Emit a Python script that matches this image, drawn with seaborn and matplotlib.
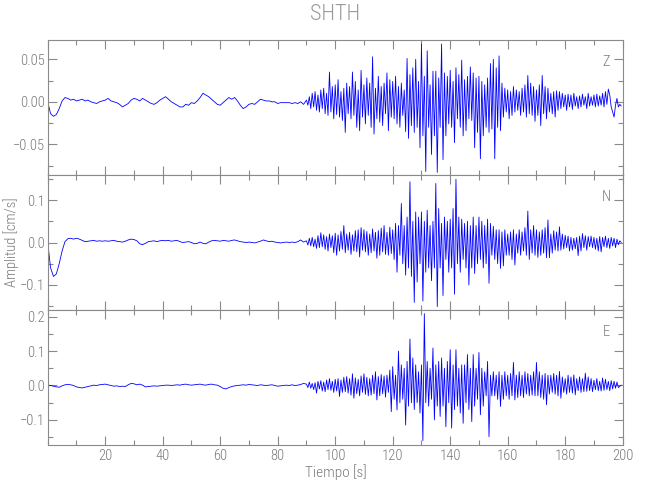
import numpy as np
import pandas as pd
import matplotlib
matplotlib.use("Agg")
import matplotlib.pyplot as plt
import seaborn as sns
from matplotlib.ticker import MultipleLocator, FuncFormatter


STATION = "SHTH"
COMPONENTS = ["Z", "N", "E"]
X_LABEL = "Tiempo [s]"
Y_LABEL = "Amplitud [cm/s]"

# quiet part, one sample per second (0 .. 89 s)
z_pre = [0.000, -0.014, -0.017, -0.015, -0.008, 0.001, 0.005, 0.004, 0.002, 0.003,
         0.001, 0.002, 0.003, 0.001, 0.002, 0.000, -0.001, -0.002, 0.000, 0.001,
         0.002, 0.004, 0.001, 0.000, -0.001, -0.003, -0.006, -0.004, -0.002, 0.002,
         0.004, 0.003, 0.001, 0.004, 0.002, 0.000, -0.002, -0.003, -0.001, 0.002,
         0.004, 0.006, 0.003, 0.000, -0.002, -0.004, -0.006, -0.006, -0.003, -0.004,
         -0.001, -0.002, 0.001, 0.005, 0.010, 0.008, 0.006, 0.003, 0.000, -0.003,
         -0.004, -0.001, 0.002, 0.005, 0.003, 0.005, 0.001, -0.004, -0.008, -0.006,
         -0.003, -0.002, -0.003, 0.000, 0.003, 0.002, 0.001, 0.001, 0.000, 0.000,
         -0.002, -0.001, -0.001, -0.001, -0.001, -0.002, -0.001, -0.002, 0.000, -0.003]

n_pre = [0.000, -0.060, -0.080, -0.074, -0.050, -0.020, 0.002, 0.009, 0.010, 0.008,
         0.010, 0.008, 0.005, 0.002, 0.003, 0.004, 0.005, 0.003, 0.004, 0.003,
         0.004, 0.003, 0.004, 0.005, 0.003, 0.002, 0.001, 0.003, 0.006, 0.008,
         0.007, 0.004, -0.003, -0.005, -0.002, 0.002, 0.003, 0.004, 0.002, 0.004,
         0.005, 0.004, 0.005, 0.003, 0.004, 0.005, 0.002, 0.000, 0.001, 0.002,
         0.000, -0.003, -0.002, 0.001, -0.002, -0.003, 0.001, 0.004, 0.005, 0.004,
         0.003, 0.005, 0.004, 0.003, 0.005, 0.006, 0.004, 0.002, 0.001, 0.000,
         0.001, 0.000, -0.001, 0.001, 0.003, 0.006, 0.004, 0.002, 0.003, 0.001,
         0.000, -0.001, 0.000, 0.001, 0.000, 0.001, 0.000, 0.002, 0.006, 0.001]

e_pre = [0.001, 0.000, -0.002, -0.004, -0.005, -0.001, 0.002, 0.003, 0.002, 0.000,
         -0.004, -0.006, -0.007, -0.005, -0.003, -0.001, 0.001, 0.000, 0.002, 0.003,
         0.004, 0.002, 0.000, -0.002, -0.001, -0.003, -0.002, -0.003, 0.002, 0.006,
         0.005, 0.002, 0.004, 0.001, -0.004, -0.003, -0.002, -0.001, -0.002, -0.001,
         0.000, 0.001, 0.001, 0.000, 0.001, 0.002, 0.001, 0.003, 0.004, 0.002,
         0.001, 0.002, 0.003, 0.004, 0.002, 0.001, 0.003, 0.004, 0.002, 0.001,
         -0.003, -0.008, -0.010, -0.006, -0.003, -0.001, 0.000, 0.001, 0.002, 0.001,
         0.003, 0.002, 0.001, 0.000, 0.002, 0.001, 0.000, 0.001, 0.002, 0.000,
         -0.002, -0.001, 0.000, 0.001, 0.000, 0.002, 0.000, 0.001, 0.003, 0.006]

# strong motion, two samples per second (90 .. 199.5 s)
z_main = [0.002, -0.004, 0.006, -0.008, 0.010, -0.006, 0.012, -0.010, 0.008, -0.012,
          0.014, -0.008, 0.016, -0.014, 0.010, -0.016, 0.035, -0.012, 0.018, -0.020,
          0.020, -0.015, 0.026, -0.018, 0.012, -0.022, 0.016, -0.036, 0.022, -0.014,
          0.018, -0.020, 0.035, -0.016, 0.024, -0.030, 0.014, -0.034, 0.037, -0.018,
          0.020, -0.026, 0.028, -0.016, 0.022, -0.030, 0.053, -0.038, 0.016, -0.020,
          0.030, -0.024, 0.018, -0.028, 0.022, -0.014, 0.034, -0.034, 0.026, -0.018,
          0.024, -0.020, 0.030, -0.026, 0.018, -0.030, 0.022, -0.016, 0.014, -0.035,
          0.051, -0.043, 0.032, -0.028, 0.040, -0.036, 0.050, -0.030, 0.024, -0.054,
          0.068, -0.040, 0.030, -0.082, 0.060, -0.030, 0.020, -0.062, 0.036, -0.040,
          0.036, -0.083, 0.028, -0.030, 0.068, -0.068, 0.034, -0.040, 0.030, -0.026,
          0.037, -0.030, 0.024, -0.048, 0.040, -0.020, 0.032, -0.030, 0.049, -0.040,
          0.026, -0.034, 0.030, -0.020, 0.041, -0.022, 0.034, -0.054, 0.028, -0.036,
          0.030, -0.067, 0.024, -0.040, 0.020, -0.030, 0.028, -0.036, 0.045, -0.032,
          0.050, -0.067, 0.040, -0.030, 0.054, -0.034, 0.022, -0.018, 0.016, -0.012,
          0.014, -0.020, 0.012, -0.016, 0.018, -0.012, 0.014, -0.010, 0.012, -0.016,
          0.016, -0.012, 0.020, -0.018, 0.031, -0.014, 0.022, -0.016, 0.018, -0.023,
          0.014, -0.016, 0.020, -0.028, 0.031, -0.014, 0.018, -0.020, 0.016, -0.012,
          0.010, -0.014, 0.012, -0.018, 0.013, -0.010, 0.012, -0.008, 0.010, -0.006,
          0.008, -0.010, 0.009, -0.006, 0.008, -0.009, 0.010, -0.005, 0.006, -0.008,
          0.007, -0.006, 0.009, -0.004, 0.006, -0.008, 0.010, -0.005, 0.006, -0.004,
          0.008, -0.006, 0.009, -0.005, 0.007, -0.004, 0.010, -0.006, 0.012, -0.003,
          0.015, 0.008, -0.006, -0.012, -0.018, -0.004, 0.004, -0.006, -0.003, -0.005]

n_main = [0.004, -0.006, 0.010, -0.008, 0.012, -0.010, 0.008, -0.014, 0.016, -0.012,
          0.023, -0.010, 0.018, -0.016, 0.014, -0.020, 0.020, -0.012, 0.016, -0.024,
          0.022, -0.030, 0.018, -0.020, 0.026, -0.016, 0.040, -0.024, 0.020, -0.018,
          0.024, -0.028, 0.018, -0.020, 0.028, -0.022, 0.030, -0.034, 0.035, -0.018,
          0.030, -0.022, 0.026, -0.030, 0.020, -0.024, 0.032, -0.020, 0.024, -0.037,
          0.028, -0.030, 0.034, -0.022, 0.040, -0.028, 0.024, -0.030, 0.036, -0.026,
          0.030, -0.040, 0.045, -0.070, 0.040, -0.030, 0.092, -0.050, 0.040, -0.077,
          0.060, -0.060, 0.143, -0.080, 0.050, -0.141, 0.072, -0.093, 0.060, -0.050,
          0.072, -0.138, 0.050, -0.070, 0.076, -0.060, 0.040, -0.090, 0.050, -0.060,
          0.139, -0.151, 0.080, -0.060, 0.045, -0.125, 0.060, -0.040, 0.050, -0.070,
          0.055, -0.060, 0.080, -0.122, 0.149, -0.050, 0.060, -0.070, 0.055, -0.040,
          0.045, -0.060, 0.050, -0.100, 0.040, -0.060, 0.060, -0.073, 0.040, -0.050,
          0.060, -0.040, 0.050, -0.060, 0.040, -0.050, 0.055, -0.096, 0.045, -0.030,
          0.038, -0.040, 0.030, -0.050, 0.030, -0.061, 0.025, -0.055, 0.030, -0.030,
          0.020, -0.030, 0.025, -0.040, 0.030, -0.053, 0.020, -0.025, 0.030, -0.030,
          0.025, -0.020, 0.035, -0.030, 0.074, -0.040, 0.030, -0.025, 0.040, -0.030,
          0.030, -0.035, 0.025, -0.030, 0.030, -0.025, 0.035, -0.036, 0.053, -0.036,
          0.020, -0.025, 0.028, -0.018, 0.025, -0.020, 0.037, -0.018, 0.020, -0.015,
          0.017, -0.012, 0.015, -0.020, 0.012, -0.018, 0.010, -0.015, 0.012, -0.031,
          0.015, -0.020, 0.021, -0.012, 0.016, -0.018, 0.014, -0.010, 0.015, -0.012,
          0.012, -0.016, 0.010, -0.020, 0.014, -0.022, 0.012, -0.010, 0.015, -0.012,
          0.010, -0.014, 0.012, -0.008, 0.010, -0.012, 0.008, -0.005, 0.004, 0.000]

e_main = [0.004, -0.006, 0.010, -0.008, 0.006, -0.012, 0.008, -0.022, 0.012, -0.010,
          0.014, -0.016, 0.010, -0.018, 0.016, -0.012, 0.020, -0.014, 0.012, -0.020,
          0.018, -0.016, 0.020, -0.032, 0.016, -0.020, 0.024, -0.018, 0.026, -0.022,
          0.020, -0.028, 0.034, -0.037, 0.022, -0.024, 0.018, -0.030, 0.028, -0.020,
          0.034, -0.026, 0.024, -0.030, 0.020, -0.028, 0.030, -0.024, 0.040, -0.042,
          0.026, -0.030, 0.032, -0.024, 0.028, -0.034, 0.030, -0.020, 0.045, -0.076,
          0.055, -0.040, 0.030, -0.071, 0.100, -0.050, 0.060, -0.040, 0.050, -0.115,
          0.070, -0.060, 0.135, -0.050, 0.080, -0.070, 0.060, -0.050, 0.040, -0.080,
          0.060, -0.160, 0.209, -0.050, 0.070, -0.060, 0.050, -0.040, 0.109, -0.100,
          0.060, -0.060, 0.070, -0.090, 0.080, -0.060, 0.050, -0.120, 0.070, -0.050,
          0.104, -0.124, 0.060, -0.070, 0.104, -0.060, 0.050, -0.080, 0.060, -0.110,
          0.060, -0.050, 0.090, -0.070, 0.050, -0.105, 0.090, -0.060, 0.050, -0.040,
          0.096, -0.085, 0.050, -0.060, 0.040, -0.030, 0.070, -0.149, 0.030, -0.030,
          0.040, -0.030, 0.030, -0.040, 0.040, -0.061, 0.030, -0.040, 0.040, -0.030,
          0.030, -0.040, 0.035, -0.030, 0.067, -0.042, 0.030, -0.035, 0.040, -0.030,
          0.030, -0.035, 0.040, -0.025, 0.035, -0.030, 0.030, -0.028, 0.040, -0.030,
          0.067, -0.030, 0.040, -0.035, 0.030, -0.040, 0.035, -0.056, 0.030, -0.025,
          0.030, -0.020, 0.035, -0.025, 0.030, -0.030, 0.041, -0.037, 0.025, -0.020,
          0.020, -0.025, 0.030, -0.020, 0.025, -0.022, 0.031, -0.027, 0.020, -0.015,
          0.025, -0.020, 0.020, -0.018, 0.036, -0.017, 0.025, -0.015, 0.020, -0.018,
          0.015, -0.012, 0.020, -0.015, 0.012, -0.016, 0.022, -0.014, 0.018, -0.012,
          0.012, -0.015, 0.014, -0.010, 0.012, -0.008, 0.010, -0.006, -0.002, 0.001]

t_pre = np.arange(0, 90, 1.0)
t_main = np.arange(90, 200, 0.5)

GRAY = "#8a8a8a"
TXT = "#7a7a7a"


def amp_formatter(decimals):
    # IDL style labels with a long minus sign
    def _fmt(v, pos):
        s = "%.*f" % (decimals, v)
        if s.startswith("-") and float(s) == 0:
            s = s[1:]
        return s.replace("-", "\u2212")
    return FuncFormatter(_fmt)


sns.set_style("ticks")
plt.rcParams["font.family"] = ["Roboto Condensed", "DejaVu Sans"]
plt.rcParams["font.weight"] = 300

fig = plt.figure(figsize=(6.5, 5.0), dpi=100)

panels = [
    (COMPONENTS[0], z_pre, z_main, (-0.0861, 0.0727), 0.05, 0.025, 2, 0.65),
    (COMPONENTS[1], n_pre, n_main, (-0.159, 0.159), 0.1, 0.05, 1, 0.38),
    (COMPONENTS[2], e_pre, e_main, (-0.173, 0.2195), 0.1, 0.05, 1, 0.11),
]

for i, (comp, pre, main, ylim, major, minor, dec, bottom) in enumerate(panels):
    ax = fig.add_axes([0.0734, bottom, 0.8846, 0.27])
    df = pd.DataFrame({"t": np.concatenate([t_pre, t_main]),
                       "amp": np.concatenate([pre, main])})
    sns.lineplot(data=df, x="t", y="amp", ax=ax, color="#0000ff",
                 linewidth=0.6, estimator=None, sort=False)
    ax.set_xlim(0, 200)
    ax.set_ylim(*ylim)
    ax.xaxis.set_major_locator(MultipleLocator(20))
    ax.xaxis.set_minor_locator(MultipleLocator(10))
    ax.yaxis.set_major_locator(MultipleLocator(major))
    ax.yaxis.set_minor_locator(MultipleLocator(minor))
    ax.yaxis.set_major_formatter(amp_formatter(dec))
    ax.tick_params(which="both", direction="in", top=True, right=True,
                   color=GRAY, labelcolor=TXT, labelsize=10.5, width=0.8)
    ax.tick_params(which="major", length=6.5)
    ax.tick_params(which="minor", length=3.5)
    ax.tick_params(axis="y", pad=2)
    ax.tick_params(axis="x", pad=3)
    for sp in ax.spines.values():
        sp.set_visible(True)
        sp.set_color(GRAY)
        sp.set_linewidth(0.8)
    ax.set_xlabel("")
    ax.set_ylabel("")
    if i < 2:
        ax.tick_params(axis="x", labelbottom=False)
    else:
        xt = [v for v in range(20, 201, 20)]
        ax.set_xticks(xt)
        ax.set_xticklabels([str(v) for v in xt])
    ax.text(0.971, 0.837, comp, transform=ax.transAxes, ha="center",
            va="center", color=TXT, fontsize=10.5)

fig.text(335 / 650, 1 - 15 / 500, STATION, ha="center", va="center",
         color="#9a9a9a", fontsize=16)
fig.text(11 / 650, 1 - 242 / 500, Y_LABEL, ha="center", va="center",
         rotation=90, color=TXT, fontsize=10.5)
fig.text(336 / 650, 1 - 472 / 500, X_LABEL, ha="center", va="center",
         color=TXT, fontsize=11)

fig.savefig("out.png", dpi=100)
